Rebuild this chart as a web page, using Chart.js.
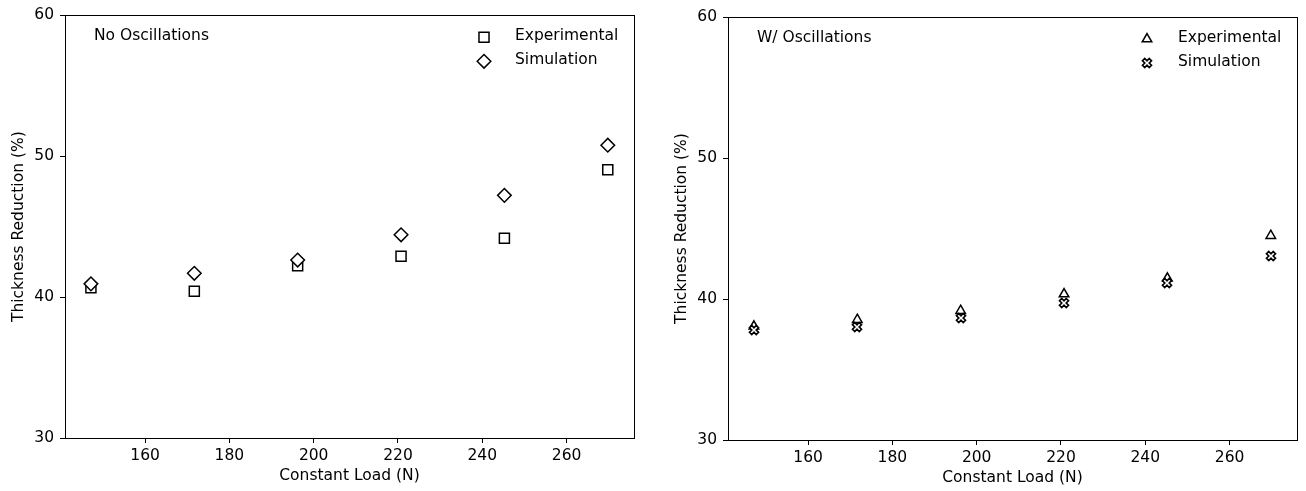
<!DOCTYPE html>
<html>
<head>
<meta charset="utf-8">
<script src="https://cdn.jsdelivr.net/npm/chart.js@4.4.1/dist/chart.umd.min.js"></script>
<style>
  body { margin: 0; background: #fff; }
  .painel { position: absolute; top: 0; width: 653px; height: 491px; }
</style>
</head>
<body>
<div class="painel" style="left:0"><canvas id="grafico-sem-oscilacao" width="653" height="491"></canvas></div>
<div class="painel" style="left:653px"><canvas id="grafico-com-oscilacao" width="653" height="491"></canvas></div>
<script>
// dados dos ensaios (carga em N, redução de espessura em %)
const cargas = [147.15, 171.68, 196.2, 220.73, 245.25, 269.78]
const experimentalSemOscilacao = [40.66, 40.42, 42.23, 42.9, 44.17, 49.04]
const simulacaoSemOscilacao = [40.94, 41.69, 42.63, 44.42, 47.22, 50.78]
const experimentalComOscilacao = [38.06, 38.53, 39.17, 40.35, 41.47, 44.49]
const simulacaoComOscilacao = [37.8, 37.99, 38.65, 39.7, 41.13, 43.07]
const ticksCarga = [160, 180, 200, 220, 240, 260]
const ticksEspessura = [30, 40, 50, 60]

const FONTE = 'DejaVu Sans'
const TAM_FONTE = 15.5
Chart.defaults.font.family = FONTE
Chart.defaults.font.size = TAM_FONTE
Chart.defaults.color = '#000'

// marcador "X" vazado (cruz girada com contorno)
function criarMarcadorX() {
    const c = document.createElement('canvas')
    c.width = 14
    c.height = 14
    const g = c.getContext('2d')
    const pts = [[-1, -3], [1, -3], [1, -1], [3, -1], [3, 1], [1, 1], [1, 3], [-1, 3], [-1, 1], [-3, 1], [-3, -1], [-1, -1]]
    const escala = 9.5 / 6
    const cos = Math.cos(Math.PI / 4), sin = Math.sin(Math.PI / 4)
    g.beginPath()
    pts.forEach(([px, py], i) => {
        const x = 7 + (px * cos - py * sin) * escala
        const y = 7 + (px * sin + py * cos) * escala
        if (i === 0) g.moveTo(x, y)
        else g.lineTo(x, y)
    })
    g.closePath()
    g.fillStyle = '#fff'
    g.fill()
    g.lineWidth = 1.7
    g.strokeStyle = '#000'
    g.stroke()
    return c
}

function montarPontos(valores) {
    return cargas.map((x, i) => ({ x: x, y: valores[i] }))
}

// sem suavização pro marcador em imagem não ficar borrado
const pluginNitido = {
    id: 'nitido',
    beforeDatasetsDraw(chart) {
        chart.ctx.imageSmoothingEnabled = false
    }
}

// caixa em volta da área do gráfico + texto do painel + legenda
const pluginMoldura = {
    id: 'moldura',
    afterDraw(chart, args, opts) {
        const { ctx, chartArea } = chart
        const { left, right, top, bottom } = chartArea
        ctx.save()
        ctx.imageSmoothingEnabled = false
        ctx.strokeStyle = '#000'
        ctx.lineWidth = 1
        ctx.strokeRect(Math.round(left) + 0.5, Math.round(top) + 0.5, Math.round(right - left), Math.round(bottom - top))

        ctx.font = `${TAM_FONTE}px "${FONTE}"`
        ctx.fillStyle = '#000'
        ctx.textBaseline = 'middle'
        ctx.textAlign = 'left'
        ctx.fillText(opts.rotulo, left + 29, top + 20.5)

        chart.data.datasets.forEach((ds, i) => {
            const y = top + 21 + i * 24
            ctx.save()
            ctx.fillStyle = ds.backgroundColor
            ctx.strokeStyle = ds.borderColor
            ctx.lineWidth = ds.borderWidth
            Chart.helpers.drawPoint(ctx, {
                pointStyle: ds.pointStyle,
                radius: ds.pointRadius,
                rotation: 0,
                borderWidth: ds.borderWidth
            }, right - 150, y + 1)
            ctx.restore()
            ctx.fillStyle = '#000'
            ctx.fillText(ds.label, right - 119, y)
        })
        ctx.restore()
    }
}

function criarGrafico(canvasId, rotulo, series, cfg) {
    const ctx = document.getElementById(canvasId)
    return new Chart(ctx, {
        type: 'scatter',
        data: {
            datasets: series.map(s => ({
                label: s.label,
                data: montarPontos(s.valores),
                pointStyle: s.estilo,
                pointRadius: s.raio,
                pointHoverRadius: s.raio,
                borderWidth: 1.5,
                borderColor: '#000',
                backgroundColor: '#fff',
                order: s.ordem
            }))
        },
        options: {
            responsive: false,
            animation: false,
            events: [],
            layout: { padding: { left: 0, right: cfg.dir, top: cfg.topo, bottom: 0 } },
            plugins: {
                legend: { display: false },
                tooltip: { enabled: false },
                moldura: { rotulo: rotulo }
            },
            scales: {
                x: {
                    type: 'linear',
                    min: 141,
                    max: 276,
                    afterBuildTicks: (s) => { s.ticks = ticksCarga.map(v => ({ value: v })) },
                    afterFit: (s) => { s.height = cfg.altX },
                    grid: { drawOnChartArea: false, drawTicks: true, tickLength: 5, color: '#000', tickWidth: 1 },
                    border: { display: true, color: '#000', width: 1 },
                    ticks: { padding: 4, color: '#000', font: { size: TAM_FONTE } },
                    title: { display: true, text: 'Constant Load (N)', color: '#000', padding: { top: 0, bottom: cfg.tituloX } }
                },
                y: {
                    type: 'linear',
                    min: 30,
                    max: 60,
                    afterBuildTicks: (s) => { s.ticks = ticksEspessura.map(v => ({ value: v })) },
                    afterFit: (s) => { s.width = cfg.largY },
                    grid: { drawOnChartArea: false, drawTicks: true, tickLength: 5, color: '#000', tickWidth: 1 },
                    border: { display: true, color: '#000', width: 1 },
                    ticks: { padding: 6, color: '#000', font: { size: TAM_FONTE } },
                    title: { display: true, text: 'Thickness Reduction (%)', color: '#000', padding: { top: cfg.tituloY, bottom: 0 } }
                }
            }
        },
        plugins: [pluginNitido, pluginMoldura]
    })
}

// ===== painel sem oscilação =====
criarGrafico('grafico-sem-oscilacao', 'No Oscillations', [
    { label: 'Experimental', valores: experimentalSemOscilacao, estilo: 'rect', raio: 7.1, ordem: 1 },
    { label: 'Simulation', valores: simulacaoSemOscilacao, estilo: 'rectRot', raio: 6.8, ordem: 0 }
], { dir: 19, topo: 15, altX: 53, largY: 65, tituloX: 6, tituloY: 10 })

// ===== painel com oscilação =====
const marcadorX = criarMarcadorX()
criarGrafico('grafico-com-oscilacao', 'W/ Oscillations', [
    { label: 'Experimental', valores: experimentalComOscilacao, estilo: 'triangle', raio: 5.5, ordem: 1 },
    { label: 'Simulation', valores: simulacaoComOscilacao, estilo: marcadorX, raio: 5, ordem: 0 }
], { dir: 9, topo: 17, altX: 51, largY: 75, tituloX: 4, tituloY: 20 })
</script>
</body>
</html>
